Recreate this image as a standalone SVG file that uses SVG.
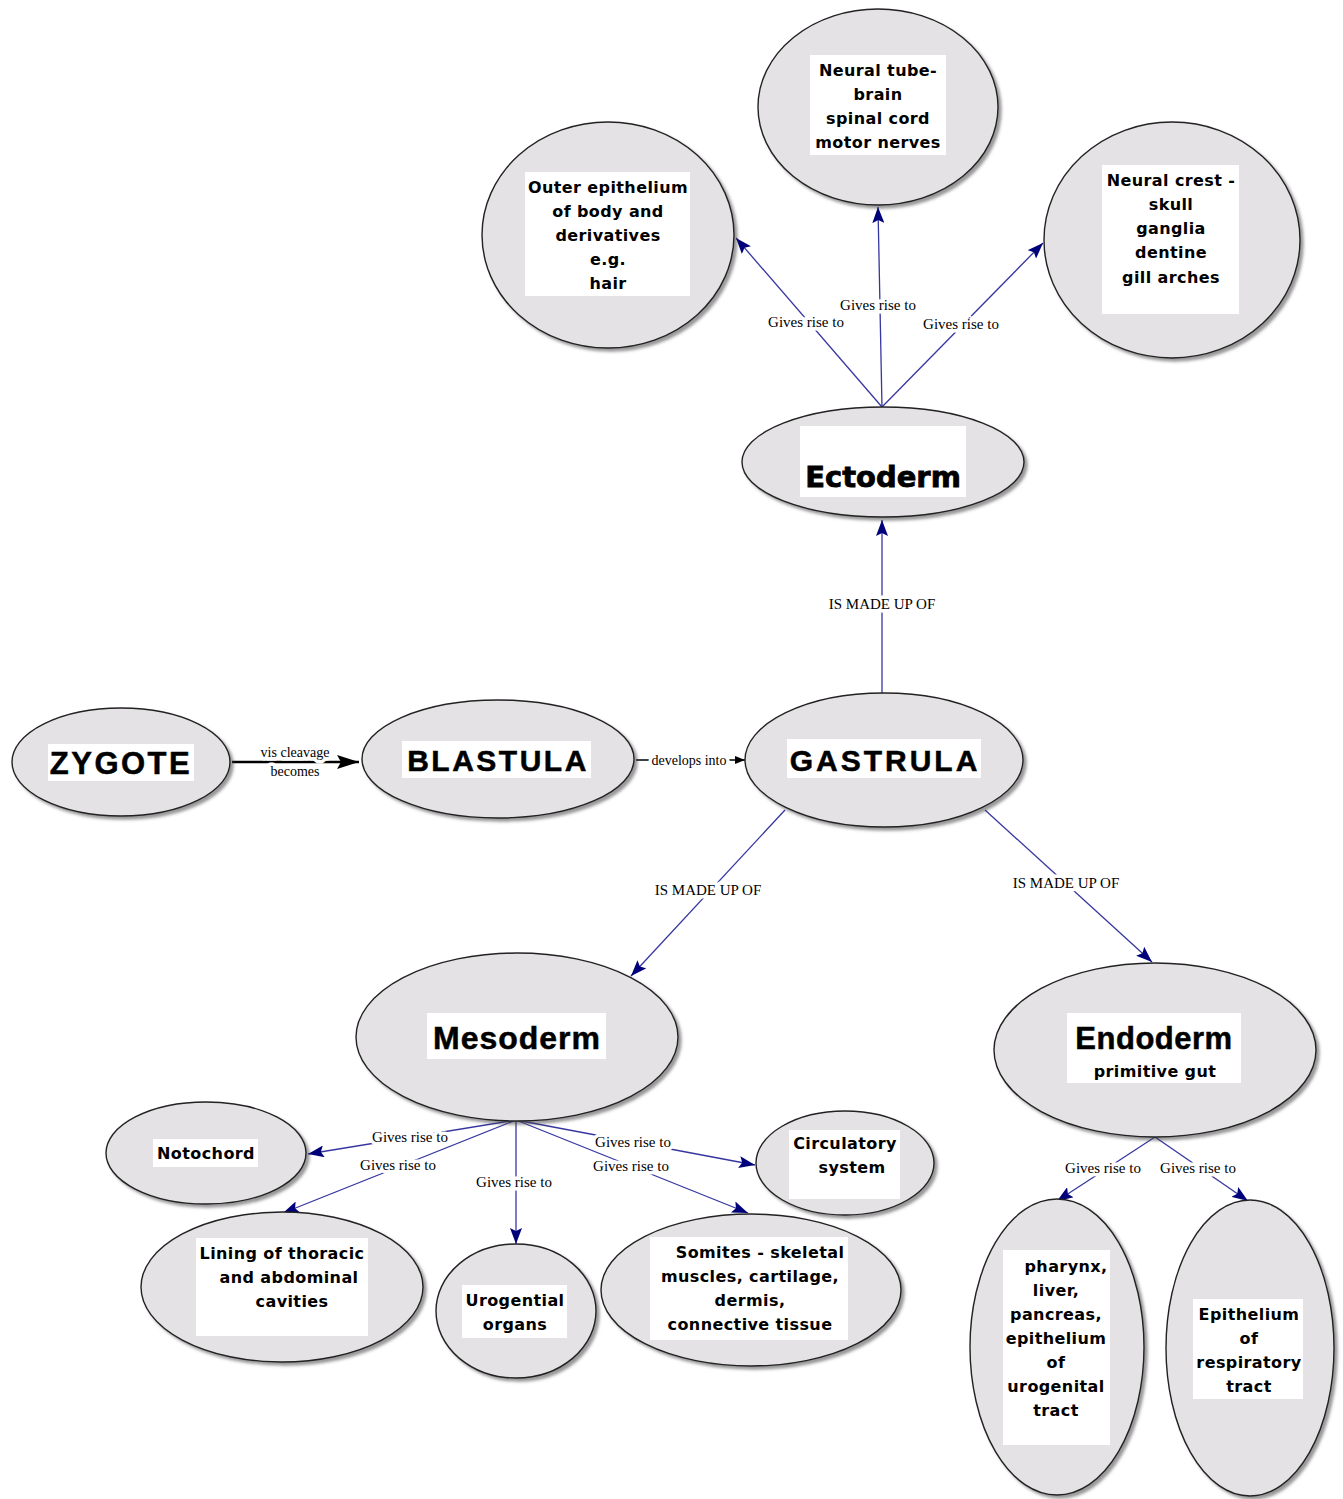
<svg xmlns="http://www.w3.org/2000/svg" width="1343" height="1499" viewBox="0 0 1343 1499">
<style>
.node ellipse{fill:#e4e2e4;stroke:#222;stroke-width:1.4;filter:url(#sh)}
.box{fill:#fff}
.t{font-family:"DejaVu Sans","Liberation Sans",sans-serif;font-weight:bold;font-size:16px;fill:#000;text-anchor:middle;letter-spacing:0.4px}
.big{font-family:"Liberation Sans","Arial",sans-serif;font-weight:bold;font-size:30px;fill:#000;stroke:#000;stroke-width:0.5;text-anchor:middle}
.heavy{font-family:"DejaVu Sans",sans-serif;font-weight:bold;font-size:29px;fill:#000;stroke:#000;stroke-width:0.8;text-anchor:middle}
.edge{stroke:#3636a0;stroke-width:1.3;fill:none}
.bl{stroke:#000;fill:none}
.lab{font-family:"Liberation Serif","Times New Roman",serif;font-size:15px;fill:#000;text-anchor:middle;stroke:#fff;stroke-width:7;paint-order:stroke;stroke-linejoin:round}
</style>
<defs>
<filter id="sh" x="-10%" y="-10%" width="125%" height="125%">
<feDropShadow dx="3" dy="3" stdDeviation="1.6" flood-color="#444" flood-opacity="0.55"/>
</filter>
<marker id="ar" viewBox="0 0 16 12" refX="16" refY="6" markerWidth="16" markerHeight="12" markerUnits="userSpaceOnUse" orient="auto">
<path d="M0,0 L16,6 L0,12 L3,6 Z" fill="#00007a"/>
</marker>
<marker id="ark" viewBox="0 0 22 14" refX="22" refY="7" markerWidth="22" markerHeight="14" markerUnits="userSpaceOnUse" orient="auto">
<path d="M0,0 L22,7 L0,14 L4,7 Z" fill="#000"/>
</marker>
<marker id="arks" viewBox="0 0 10 8" refX="10" refY="4" markerWidth="10" markerHeight="8" markerUnits="userSpaceOnUse" orient="auto">
<path d="M0,0 L10,4 L0,8 Z" fill="#000"/>
</marker>
</defs>
<rect width="1343" height="1499" fill="#fff"/>

<g id="connectors">
<line class="bl" stroke-width="2.5" x1="232" y1="762" x2="359" y2="762" marker-end="url(#ark)"/>
<text class="lab" x="295" y="757" style="font-size:14px">vis cleavage</text>
<text class="lab" x="295" y="776" style="font-size:14px">becomes</text>
<line class="bl" stroke-width="1.3" x1="636" y1="760" x2="745" y2="760" marker-end="url(#arks)"/>
<text class="lab" x="689" y="765" style="font-size:14px">develops into</text>

<line class="edge" x1="882" y1="693" x2="882" y2="520" marker-end="url(#ar)"/>
<text class="lab" x="882" y="609">IS MADE UP OF</text>
<line class="edge" x1="785" y1="810" x2="631" y2="976" marker-end="url(#ar)"/>
<text class="lab" x="708" y="895">IS MADE UP OF</text>
<line class="edge" x1="985" y1="810" x2="1152" y2="962" marker-end="url(#ar)"/>
<text class="lab" x="1066" y="888">IS MADE UP OF</text>

<line class="edge" x1="882" y1="407" x2="736" y2="238" marker-end="url(#ar)"/>
<text class="lab" x="806" y="327">Gives rise to</text>
<line class="edge" x1="882" y1="407" x2="878" y2="207" marker-end="url(#ar)"/>
<text class="lab" x="878" y="310">Gives rise to</text>
<line class="edge" x1="882" y1="407" x2="1043" y2="243" marker-end="url(#ar)"/>
<text class="lab" x="961" y="329">Gives rise to</text>

<line class="edge" x1="516" y1="1120" x2="308" y2="1154" marker-end="url(#ar)"/>
<text class="lab" x="410" y="1142">Gives rise to</text>
<line class="edge" x1="516" y1="1120" x2="283" y2="1213" marker-end="url(#ar)"/>
<text class="lab" x="398" y="1170">Gives rise to</text>
<line class="edge" x1="516" y1="1120" x2="516" y2="1244" marker-end="url(#ar)"/>
<text class="lab" x="514" y="1187">Gives rise to</text>
<line class="edge" x1="516" y1="1120" x2="755" y2="1165" marker-end="url(#ar)"/>
<text class="lab" x="633" y="1147">Gives rise to</text>
<line class="edge" x1="516" y1="1120" x2="748" y2="1213" marker-end="url(#ar)"/>
<text class="lab" x="631" y="1171">Gives rise to</text>

<line class="edge" x1="1155" y1="1137" x2="1057" y2="1201" marker-end="url(#ar)"/>
<text class="lab" x="1103" y="1173">Gives rise to</text>
<line class="edge" x1="1155" y1="1137" x2="1248" y2="1201" marker-end="url(#ar)"/>
<text class="lab" x="1198" y="1173">Gives rise to</text>
</g>

<g id="outer" class="node">
<ellipse cx="608" cy="235" rx="126" ry="113"/>
<rect class="box" x="525" y="172" width="165" height="124"/>
<text class="t" x="608" y="193">Outer epithelium</text>
<text class="t" x="608" y="217">of body and</text>
<text class="t" x="608" y="241">derivatives</text>
<text class="t" x="608" y="265">e.g.</text>
<text class="t" x="608" y="289">hair</text>
</g>

<g id="neuraltube" class="node">
<ellipse cx="878" cy="107" rx="120" ry="98"/>
<rect class="box" x="810" y="55" width="136" height="100"/>
<text class="t" x="878" y="76">Neural tube-</text>
<text class="t" x="878" y="100">brain</text>
<text class="t" x="878" y="124">spinal cord</text>
<text class="t" x="878" y="148">motor nerves</text>
</g>

<g id="neuralcrest" class="node">
<ellipse cx="1172" cy="240" rx="128" ry="118"/>
<rect class="box" x="1102" y="165" width="137" height="149"/>
<text class="t" x="1171" y="186">Neural crest -</text>
<text class="t" x="1171" y="210">skull</text>
<text class="t" x="1171" y="234">ganglia</text>
<text class="t" x="1171" y="258">dentine</text>
<text class="t" x="1171" y="283">gill arches</text>
</g>

<g id="ectoderm" class="node">
<ellipse cx="883" cy="462" rx="141" ry="55"/>
<rect class="box" x="800" y="426" width="166" height="71"/>
<text class="heavy" x="883" y="487">Ectoderm</text>
</g>

<g id="gastrula" class="node">
<ellipse cx="884" cy="760" rx="139" ry="67"/>
<rect class="box" x="787" y="739" width="194" height="39"/>
<text class="big" x="885" y="771" style="letter-spacing:3px">GASTRULA</text>
</g>

<g id="blastula" class="node">
<ellipse cx="498" cy="759" rx="136" ry="59"/>
<rect class="box" x="402" y="741" width="189" height="37"/>
<text class="big" x="498" y="771" style="letter-spacing:2.5px">BLASTULA</text>
</g>

<g id="zygote" class="node">
<ellipse cx="121" cy="762" rx="109" ry="54"/>
<rect class="box" x="48" y="744" width="146" height="37"/>
<text class="big" x="121" y="774" style="font-size:31px;letter-spacing:2.5px">ZYGOTE</text>
</g>

<g id="mesoderm" class="node">
<ellipse cx="517" cy="1037" rx="161" ry="84"/>
<rect class="box" x="427" y="1013" width="179" height="46"/>
<text class="big" x="517" y="1049" style="font-size:32px;letter-spacing:1px">Mesoderm</text>
</g>

<g id="endoderm" class="node">
<ellipse cx="1155" cy="1050" rx="161" ry="87"/>
<rect class="box" x="1067" y="1013" width="174" height="70"/>
<text class="big" x="1154" y="1049" style="font-size:31px;letter-spacing:0.5px">Endoderm</text>
<text class="t" x="1155" y="1077">primitive gut</text>
</g>

<g id="notochord" class="node">
<ellipse cx="206" cy="1153" rx="100" ry="51"/>
<rect class="box" x="153" y="1139" width="105" height="28"/>
<text class="t" x="206" y="1159">Notochord</text>
</g>

<g id="circulatory" class="node">
<ellipse cx="845" cy="1163" rx="89" ry="52"/>
<rect class="box" x="789" y="1130" width="111" height="69"/>
<text class="t" x="845" y="1149">Circulatory</text>
<text class="t" x="852" y="1173">system</text>
</g>

<g id="lining" class="node">
<ellipse cx="282" cy="1287" rx="141" ry="75"/>
<rect class="box" x="196" y="1238" width="172" height="98"/>
<text class="t" x="282" y="1259">Lining of thoracic</text>
<text class="t" x="289" y="1283">and abdominal</text>
<text class="t" x="292" y="1307">cavities</text>
</g>

<g id="urogential" class="node">
<ellipse cx="516" cy="1311" rx="80" ry="67"/>
<rect class="box" x="462" y="1285" width="105" height="53"/>
<text class="t" x="515" y="1306">Urogential</text>
<text class="t" x="515" y="1330">organs</text>
</g>

<g id="somites" class="node">
<ellipse cx="751" cy="1290" rx="150" ry="76"/>
<rect class="box" x="650" y="1237" width="198" height="103"/>
<text class="t" x="760" y="1258">Somites - skeletal</text>
<text class="t" x="750" y="1282">muscles, cartilage,</text>
<text class="t" x="750" y="1306">dermis,</text>
<text class="t" x="750" y="1330">connective tissue</text>
</g>

<g id="pharynx" class="node">
<ellipse cx="1057" cy="1347" rx="87" ry="148"/>
<rect class="box" x="1003" y="1250" width="107" height="195"/>
<text class="t" x="1066" y="1272">pharynx,</text>
<text class="t" x="1056" y="1296">liver,</text>
<text class="t" x="1056" y="1320">pancreas,</text>
<text class="t" x="1056" y="1344">epithelium</text>
<text class="t" x="1056" y="1368">of</text>
<text class="t" x="1056" y="1392">urogenital</text>
<text class="t" x="1056" y="1416">tract</text>
</g>

<g id="respiratory" class="node">
<ellipse cx="1250" cy="1348" rx="84" ry="148"/>
<rect class="box" x="1193" y="1299" width="110" height="100"/>
<text class="t" x="1249" y="1320">Epithelium</text>
<text class="t" x="1249" y="1344">of</text>
<text class="t" x="1249" y="1368">respiratory</text>
<text class="t" x="1249" y="1392">tract</text>
</g>
</svg>
